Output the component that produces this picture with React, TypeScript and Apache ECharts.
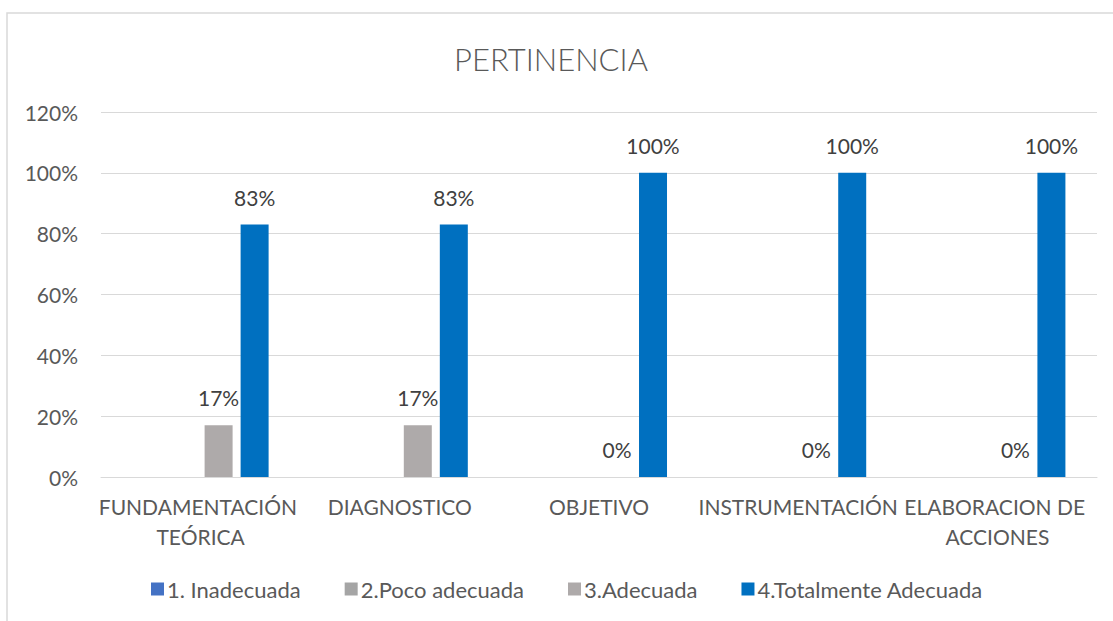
import React, { useEffect, useRef } from "react";
import * as echarts from "echarts";

const categories = [
  "FUNDAMENTACIÓN TEÓRICA",
  "DIAGNOSTICO",
  "OBJETIVO",
  "INSTRUMENTACIÓN",
  "ELABORACION DE ACCIONES",
];
const seriesNames = [
  "1. Inadecuada",
  "2.Poco adecuada",
  "3.Adecuada",
  "4.Totalmente Adecuada",
];
const inadecuada = [0, 0, 0, 0, 0];
const pocoAdecuada = [0, 0, 0, 0, 0];
const adecuada = [0.17, 0.17, 0, 0, 0];
const totalmenteAdecuada = [0.83, 0.83, 1, 1, 1];
const yTicks = [0, 0.2, 0.4, 0.6, 0.8, 1.0, 1.2];

const colors = ["#4472C4", "#A5A5A5", "#AEAAAA", "#0070C0"];
const FONT = "Lato";

export default function App() {
  const ref = useRef<HTMLDivElement>(null);
  useEffect(() => {
    if (!ref.current) return;
    const chart = echarts.init(ref.current, undefined, { renderer: "svg" });
    const pct = (v: number) => Math.round(v * 100) + "%";
    const dataSets = [inadecuada, pocoAdecuada, adecuada, totalmenteAdecuada];
    chart.setOption({
      animation: false,
      backgroundColor: "#ffffff",
      title: {
        text: "PERTINENCIA",
        left: 449,
        top: 38,
        textStyle: {
          fontFamily: FONT,
          fontSize: 31,
          fontWeight: 300,
          color: "#595959",
        },
      },
      graphic: [
        {
          type: "rect",
          shape: { x: 7, y: 13, width: 1200, height: 700 },
          style: { fill: "none", stroke: "#D9D9D9", lineWidth: 1.5 },
          silent: true,
          z: -1,
        },
      ],
      legend: {
        left: 146,
        top: 573,
        itemWidth: 13,
        itemHeight: 13,
        itemGap: 44,
        icon: "rect",
        textStyle: { fontFamily: FONT, fontSize: 22, color: "#595959", padding: [0, 0, 0, -2] },
        data: seriesNames,
      },
      grid: { left: 101, right: 16, top: 112, bottom: 144 },
      xAxis: {
        type: "category",
        data: categories,
        axisLine: { lineStyle: { color: "#D9D9D9", width: 1 } },
        axisTick: { show: false },
        axisLabel: {
          fontFamily: FONT,
          fontSize: 21,
          color: "#595959",
          margin: 14,
          lineHeight: 30,
          width: 225,
          overflow: "break",
          interval: 0,
        },
      },
      yAxis: {
        type: "value",
        min: 0,
        max: yTicks[yTicks.length - 1],
        interval: 0.2,
        axisLine: { show: false },
        axisTick: { show: false },
        splitLine: { lineStyle: { color: "#D9D9D9", width: 1 } },
        axisLabel: {
          fontFamily: FONT,
          fontSize: 21,
          color: "#595959",
          margin: 23,
          formatter: (v: number) => pct(v),
        },
      },
      series: seriesNames.map((name, i) => ({
        name,
        type: "bar",
        data: dataSets[i],
        barWidth: 28,
        barGap: "28.6%",
        itemStyle: { color: colors[i] },
        label: {
          show: i >= 2,
          position: "top",
          distance: 17,
          fontFamily: FONT,
          fontSize: 21,
          color: "#404040",
          formatter: (p: any) => pct(p.value),
        },
      })),
    });
    return () => chart.dispose();
  }, []);
  return (
    <div
      ref={ref}
      style={{ position: "fixed", left: 0, top: 0, width: 1113, height: 621 }}
    />
  );
}
